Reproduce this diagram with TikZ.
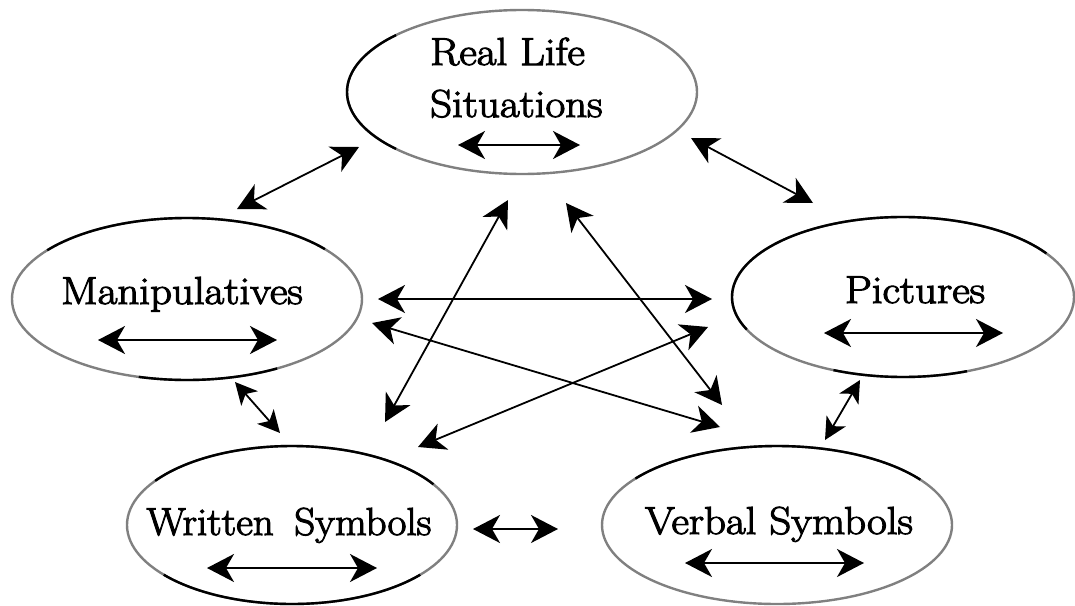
\documentclass[tikz,border=0pt]{standalone}
\usepackage{graphicx}
\usepackage{fontspec}
\setmainfont{Latin Modern Roman}
\newfontfamily\labfont{Latin Modern Roman}[FakeBold=2.6]
\usetikzlibrary{arrows.meta}
\definecolor{ellgray}{gray}{0.5}
\tikzset{
  ellg/.style={draw=ellgray, line width=2.4pt},
  ellb/.style={draw=black, line width=2.4pt},
  txt/.style={font=\labfont\fontsize{39}{47}\selectfont, inner sep=0pt, anchor=base},
  conn/.style={line width=1.8pt, {Stealth[length=27pt,width=28pt,inset=8pt]}-{Stealth[length=27pt,width=28pt,inset=8pt]}},
  sconn/.style={line width=1.8pt, {Stealth[length=22pt,width=22pt,inset=6pt]}-{Stealth[length=22pt,width=22pt,inset=6pt]}}
}
\begin{document}
\begin{tikzpicture}[x=1pt,y=-1pt]
\useasboundingbox (0,0) rectangle (1075,605);
% ellipse centres
\coordinate (rls) at (522,92);
\coordinate (man) at (187,299);
\coordinate (pic) at (903,297);
\coordinate (wri) at (292,525);
\coordinate (ver) at (777,525);
% ellipses
\draw[ellg] (rls) ellipse [x radius=175, y radius=82];
\draw[ellb] (rls) ++(-136:175 and 82) arc[start angle=-136, end angle=-224, x radius=175, y radius=82];
\draw[ellg] (man) ellipse [x radius=175, y radius=81];
\draw[ellb] (man) ++(-38:175 and 81) arc[start angle=-38, end angle=-143, x radius=175, y radius=81];
\draw[ellb] (man) ++(-254:175 and 81) arc[start angle=-254, end angle=-301, x radius=175, y radius=81];
\draw[ellg] (pic) ellipse [x radius=171, y radius=80];
\draw[ellb] (pic) ++(-33:171 and 80) arc[start angle=-33, end angle=-204, x radius=171, y radius=80];
\draw[ellb] (pic) ++(-246:171 and 80) arc[start angle=-246, end angle=-292, x radius=171, y radius=80];
\draw[ellg] (wri) ellipse [x radius=165, y radius=79];
\draw[ellb] (wri) ++(-31:165 and 79) arc[start angle=-31, end angle=-146, x radius=165, y radius=79];
\draw[ellb] (wri) ++(-219:165 and 79) arc[start angle=-219, end angle=-321, x radius=165, y radius=79];
\draw[ellg] (ver) ellipse [x radius=175, y radius=79];
\draw[ellb] (ver) ++(-35:175 and 79) arc[start angle=-35, end angle=-144, x radius=175, y radius=79];
% texts
\node[txt, anchor=base west] (rlA) at (430,65) {\scalebox{1.1}[1]{Real Life}};
\node[txt, anchor=base west] (rlB) at (430,117) {\scalebox{1.1}[1]{Situations}};
\node[txt] (manT) at (182,304) {\scalebox{1.1}[1]{Manipulatives}};
\node[txt] (picT) at (915,303) {\scalebox{1.1}[1]{Pictures}};
\node[txt] (wriT) at (289,535) {\scalebox{1.05}[1]{Written\hspace{0.5em}Symbols}};
\node[txt] (verT) at (779,534) {\scalebox{1.1}[1]{Verbal Symbols}};
% inner arrows
\coordinate (r1) at (458,145); \coordinate (r2) at (580,145);
\coordinate (m1) at (98,340);  \coordinate (m2) at (277,340);
\coordinate (p1) at (824,333); \coordinate (p2) at (1003,333);
\coordinate (w1) at (207,568); \coordinate (w2) at (377,568);
\coordinate (v1) at (685,563); \coordinate (v2) at (864,563);
\draw[conn] (r1) -- (r2);
\draw[conn] (m1) -- (m2);
\draw[conn] (p1) -- (p2);
\draw[conn] (w1) -- (w2);
\draw[conn] (v1) -- (v2);
% outer arrows
\coordinate (rmA) at (237,209); \coordinate (rmB) at (359,147);
\coordinate (rpA) at (691,138); \coordinate (rpB) at (813,203);
\coordinate (mwA) at (235,382); \coordinate (mwB) at (280,433);
\coordinate (pvA) at (860,380); \coordinate (pvB) at (825,440);
\coordinate (wvA) at (473,529); \coordinate (wvB) at (558,529);
\draw[conn] (rmA) -- (rmB);
\draw[conn] (rpA) -- (rpB);
\draw[sconn] (mwA) -- (mwB);
\draw[sconn] (pvA) -- (pvB);
\draw[conn] (wvA) -- (wvB);
% cross arrows
\coordinate (mpA) at (378,299); \coordinate (mpB) at (712,299);
\coordinate (mvA) at (372,323); \coordinate (mvB) at (720,427);
\coordinate (wrA) at (385,422); \coordinate (wrB) at (508,200);
\coordinate (rvA) at (566,203); \coordinate (rvB) at (722,405);
\coordinate (wpA) at (418,447); \coordinate (wpB) at (708,327);
\draw[conn] (mpA) -- (mpB);
\draw[conn] (mvA) -- (mvB);
\draw[conn] (wrA) -- (wrB);
\draw[conn] (rvA) -- (rvB);
\draw[conn] (wpA) -- (wpB);
\end{tikzpicture}
\end{document}
